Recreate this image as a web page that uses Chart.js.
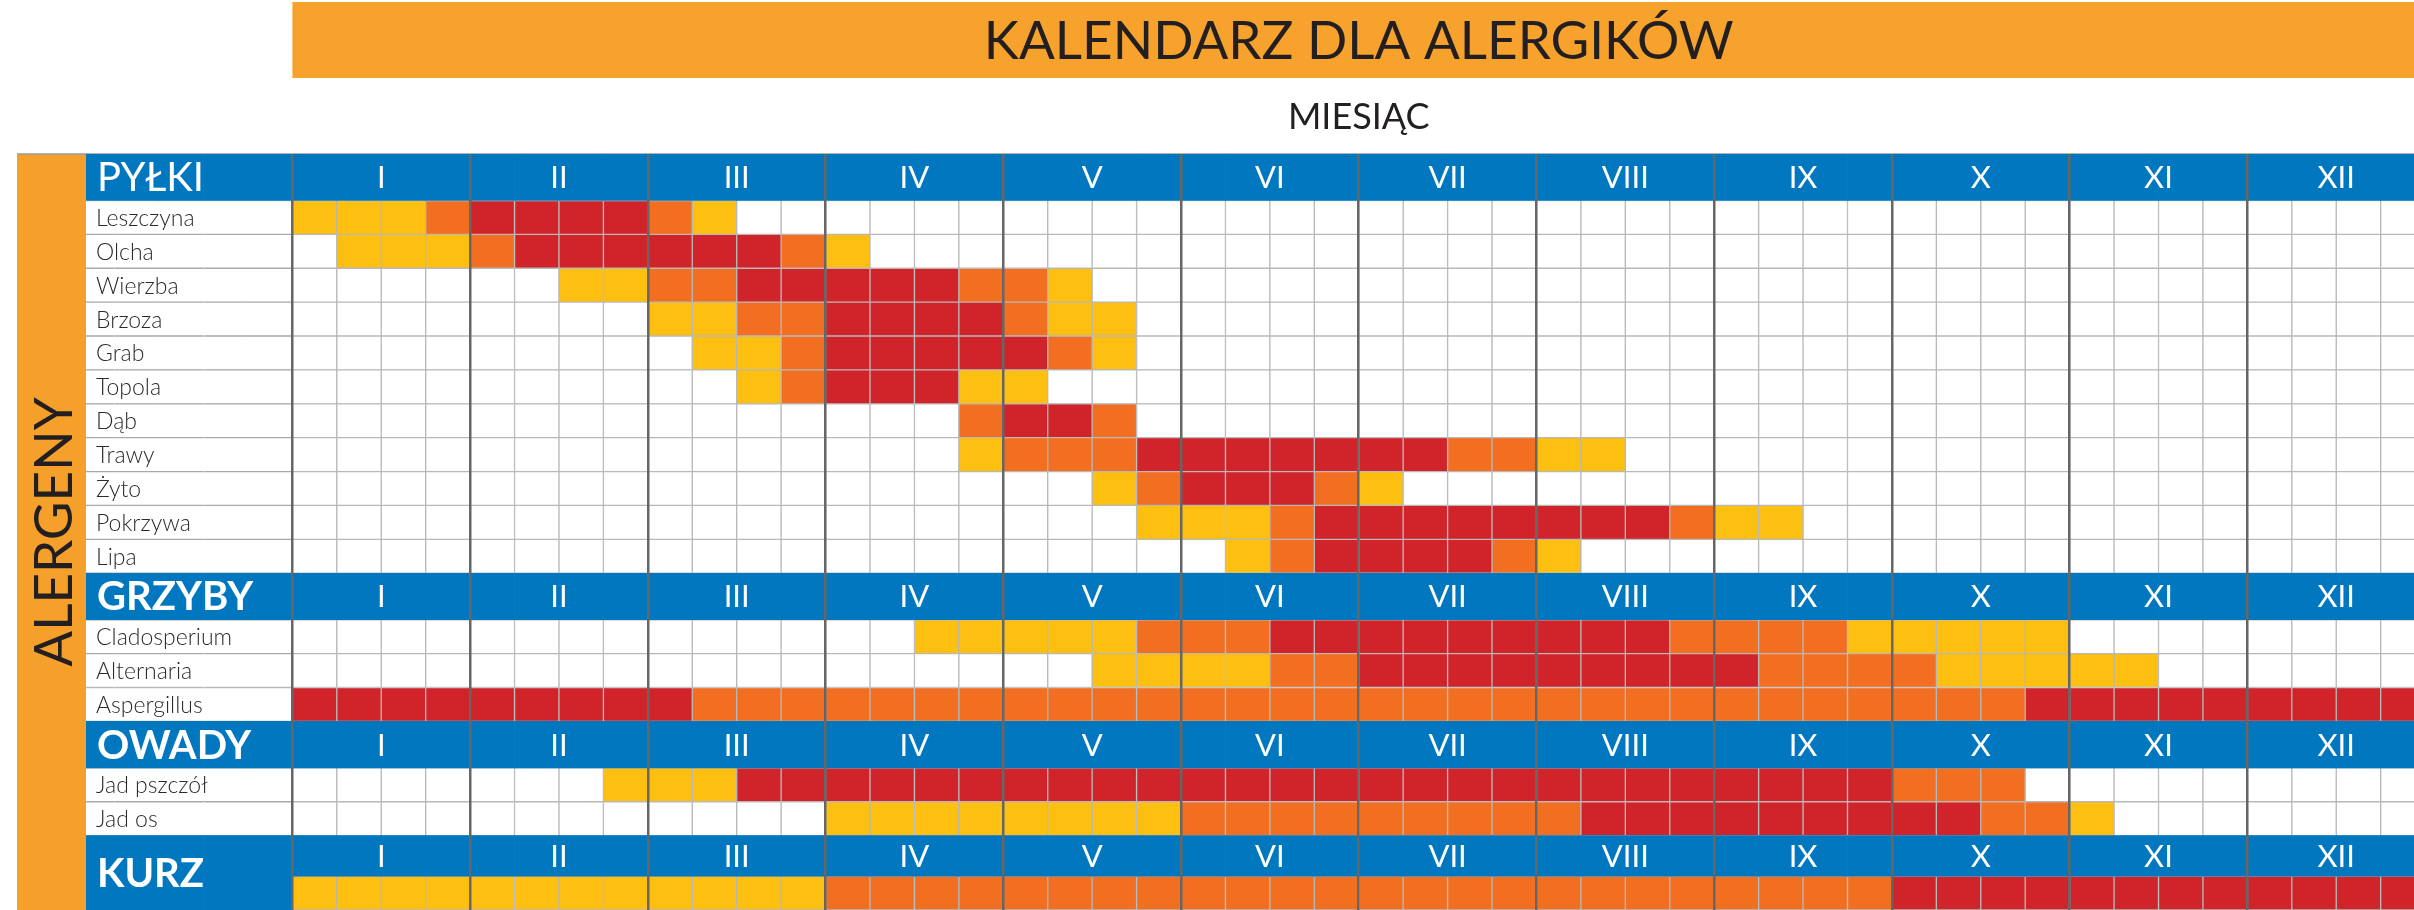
<!DOCTYPE html>
<html lang="pl">
<head>
<meta charset="utf-8">
<title>Kalendarz dla alergików</title>
<script src="https://cdn.jsdelivr.net/npm/chart.js@4.4.1/dist/chart.umd.min.js"></script>
<style>
    html, body { margin: 0; padding: 0; background: #fff; }
    #wrap { width: 2414px; height: 910px; }
</style>
</head>
<body>
<div id="wrap"><canvas id="chart"></canvas></div>
<script>
// Miesiące (4 tygodnie na miesiąc)
const months = ['I', 'II', 'III', 'IV', 'V', 'VI', 'VII', 'VIII', 'IX', 'X', 'XI', 'XII'];
const sectionTitles = ['PYŁKI', 'GRZYBY', 'OWADY', 'KURZ'];

// Poziom w każdym tygodniu: 0 brak, 1 niski, 2 średni, 3 wysoki
const pollenNames = ['Leszczyna', 'Olcha', 'Wierzba', 'Brzoza', 'Grab', 'Topola', 'Dąb', 'Trawy', 'Żyto', 'Pokrzywa', 'Lipa'];
const pollenLevels = [
    '1112 3333 2100 0000 0000 0000 0000 0000 0000 0000 0000 0000',
    '0111 2333 3332 1000 0000 0000 0000 0000 0000 0000 0000 0000',
    '0000 0011 2233 3332 2100 0000 0000 0000 0000 0000 0000 0000',
    '0000 0000 1122 3333 2110 0000 0000 0000 0000 0000 0000 0000',
    '0000 0000 0112 3333 3210 0000 0000 0000 0000 0000 0000 0000',
    '0000 0000 0012 3331 1000 0000 0000 0000 0000 0000 0000 0000',
    '0000 0000 0000 0002 3320 0000 0000 0000 0000 0000 0000 0000',
    '0000 0000 0000 0001 2223 3333 3322 1100 0000 0000 0000 0000',
    '0000 0000 0000 0000 0012 3332 1000 0000 0000 0000 0000 0000',
    '0000 0000 0000 0000 0001 1123 3333 3332 1100 0000 0000 0000',
    '0000 0000 0000 0000 0000 0123 3332 1000 0000 0000 0000 0000'
];
const fungiNames = ['Cladosperium', 'Alternaria', 'Aspergillus'];
const fungiLevels = [
    '0000 0000 0000 0011 1112 2233 3333 3332 2221 1111 0000 0000',
    '0000 0000 0000 0000 0011 1122 3333 3333 3222 2111 1100 0000',
    '3333 3333 3222 2222 2222 2222 2222 2222 2222 2223 3333 3333'
];
const insectNames = ['Jad pszczół', 'Jad os'];
const insectLevels = [
    '0000 0001 1133 3333 3333 3333 3333 3333 3333 2220 0000 0000',
    '0000 0000 0000 1111 1111 2222 2222 2333 3333 3322 1000 0000'
];
const dustLevels = [
    '1111 1111 1111 2222 2222 2222 2222 2222 2222 3333 3333 3333'
];

const levelColors = ['#ffffff', '#fdc010', '#f26f21', '#d1232a'];
const BLUE = '#0077bf';
const ORANGE = '#f6a22d';
const FONT = 'Lato, "Open Sans", sans-serif';

// Układ (jednostki: wysokość wiersza danych / szerokość tygodnia)
const ROW = 1, HEAD = 1.372, KURZ_HEAD = 1.195;
const LABEL_COLS = 4.645, VISIBLE_COLS = 47.75;

const sections = [
    { title: sectionTitles[0], names: pollenNames, levels: pollenLevels, head: HEAD, weight: 400 },
    { title: sectionTitles[1], names: fungiNames, levels: fungiLevels, head: HEAD, weight: 700 },
    { title: sectionTitles[2], names: insectNames, levels: insectLevels, head: HEAD, weight: 700 },
    { title: sectionTitles[3], names: [''], levels: dustLevels, head: KURZ_HEAD, weight: 700, merged: true }
];

// Budowa komórek
const cells = [], heads = [], labelCells = [], rowLabels = [], headRanges = [];
let pos = 0;
sections.forEach(s => {
    const top = pos;
    pos += s.head;
    headRanges.push([top, pos]);
    for (let w = -5; w < 48; w++) heads.push({ x: w + 0.5, y: [top, pos] });
    rowLabels.push({
        value: s.merged ? top + (s.head + ROW) / 2 : top + s.head / 2,
        label: s.title, head: true, weight: s.weight
    });
    s.levels.forEach((row, i) => {
        const lv = row.replace(/ /g, '').split('').map(Number);
        const r0 = pos, r1 = pos + ROW;
        pos = r1;
        lv.forEach((l, w) => cells.push({ x: w + 0.5, y: [r0, r1], level: l }));
        for (let w = -5; w < 0; w++) {
            if (s.merged) heads.push({ x: w + 0.5, y: [r0, r1] });
            else labelCells.push({ x: w + 0.5, y: [r0, r1] });
        }
        if (!s.merged) rowLabels.push({ value: (r0 + r1) / 2, label: s.names[i], head: false });
    });
});
const total = pos;

// Tytuł, oś miesięcy, pasek ALERGENY, etykiety wierszy
const decor = {
    id: 'decor',
    beforeDraw(chart) {
        const { ctx, chartArea: a, scales: { x } } = chart;
        const gx = x.getPixelForValue(0);
        const cx = (gx + x.getPixelForValue(48)) / 2;
        ctx.save();
        ctx.fillStyle = ORANGE;
        ctx.fillRect(gx, 2, chart.width - gx, 76);
        ctx.fillStyle = '#231f20';
        ctx.textAlign = 'center';
        ctx.textBaseline = 'middle';
        ctx.font = '400 53px ' + FONT;
        ctx.fillText('KALENDARZ DLA ALERGIKÓW', cx, 42);
        ctx.font = '400 36px ' + FONT;
        ctx.fillText('MIESIĄC', cx, 117);

        ctx.fillStyle = '#f5a02b';
        ctx.fillRect(17, a.top, a.left - 17, a.bottom - a.top);
        ctx.strokeStyle = '#9a9a9a';
        ctx.lineWidth = 1.5;
        ctx.beginPath();
        ctx.moveTo(17, a.top);
        ctx.lineTo(chart.width, a.top);
        ctx.stroke();
        ctx.translate((17 + a.left) / 2 + 1, (a.top + a.bottom) / 2);
        ctx.rotate(-Math.PI / 2);
        ctx.fillStyle = '#231f20';
        ctx.font = '400 53px ' + FONT;
        ctx.fillText('ALERGENY', 0, 2);
        ctx.restore();
    },
    afterDatasetsDraw(chart) {
        const { ctx, chartArea: a, scales: { x, y } } = chart;
        ctx.save();
        ctx.textBaseline = 'middle';
        ctx.fillStyle = '#fff';
        ctx.textAlign = 'center';
        ctx.font = '400 31px ' + FONT;
        headRanges.forEach(r => {
            const py = y.getPixelForValue((r[0] + r[1]) / 2);
            months.forEach((m, i) => ctx.fillText(m, x.getPixelForValue(i * 4 + 2), py + 1));
        });
        ctx.textAlign = 'left';
        rowLabels.forEach(r => {
            const py = y.getPixelForValue(r.value);
            if (r.head) {
                ctx.fillStyle = '#fff';
                ctx.font = r.weight + ' 40px ' + FONT;
                ctx.fillText(r.label, a.left + 11, py + 1);
            } else {
                ctx.fillStyle = '#2b2b2b';
                ctx.font = '300 23px ' + FONT;
                ctx.fillText(r.label, a.left + 10, py + 1);
            }
        });
        ctx.restore();
    }
};

const chart = new Chart(document.getElementById('chart'), {
    type: 'bar',
    data: {
        datasets: [
            { label: 'nagłówki', data: heads, backgroundColor: BLUE, borderWidth: 0 },
            {
                label: 'etykiety', data: labelCells, backgroundColor: '#ffffff',
                borderColor: '#a9a9a9', borderWidth: { top: 1, bottom: 1, left: 0, right: 0 }
            },
            {
                label: 'poziom', data: cells,
                backgroundColor: c => levelColors[c.raw ? c.raw.level : 0],
                borderColor: '#b8b8b8', borderWidth: 1
            }
        ]
    },
    options: {
        responsive: true,
        maintainAspectRatio: false,
        animation: false,
        events: [],
        layout: { padding: { left: 86, top: 154, right: 0, bottom: 0 } },
        datasets: {
            bar: {
                grouped: false, barPercentage: 1, categoryPercentage: 1,
                borderSkipped: false, clip: 0
            }
        },
        plugins: { legend: { display: false }, tooltip: { enabled: false }, title: { display: false } },
        scales: {
            x: {
                type: 'linear', min: -LABEL_COLS, max: VISIBLE_COLS, offset: false,
                afterBuildTicks: s => {
                    const t = [];
                    for (let v = -4; v <= 47; v++) t.push({ value: v });
                    s.ticks = t;
                },
                ticks: { display: false },
                border: { display: false },
                grid: {
                    z: 1, offset: false, drawTicks: false, lineWidth: 2.5,
                    color: c => (c.tick && c.tick.value >= 0 && c.tick.value % 4 === 0) ? '#666666' : 'rgba(0,0,0,0)'
                }
            },
            y: {
                type: 'linear', min: 0, max: total, reverse: true,
                ticks: { display: false },
                border: { display: false },
                grid: { display: false, drawTicks: false }
            }
        }
    },
    plugins: [decor]
});
</script>
</body>
</html>
